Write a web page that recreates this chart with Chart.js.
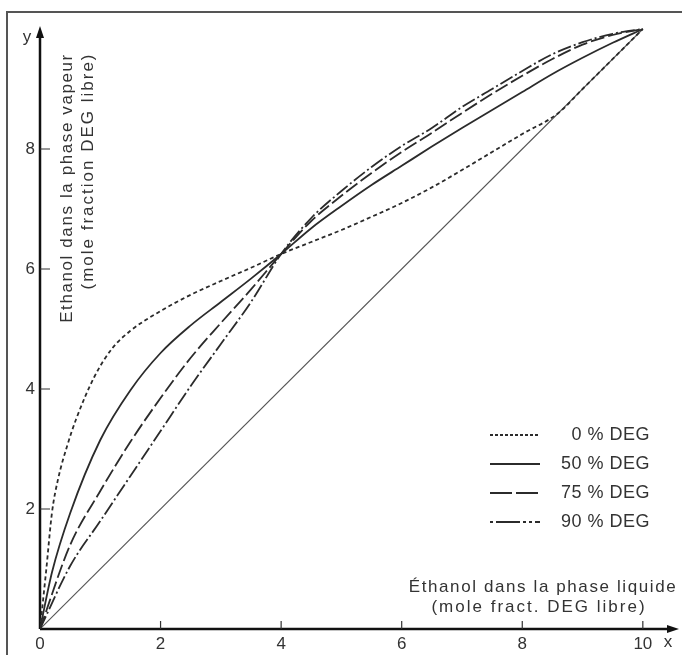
<!DOCTYPE html>
<html>
<head>
<meta charset="utf-8">
<script src="https://cdn.jsdelivr.net/npm/chart.js@4/dist/chart.umd.min.js"></script>
<style>
  body { margin: 0; background: #fff; }
  canvas { display: block; }
</style>
</head>
<body>
<canvas id="vleChart" width="682" height="655"></canvas>
<script>
// Ethanol vapour / liquid equilibrium for several DEG contents
var xTicks = [0, 2, 4, 6, 8, 10];
var yTicks = [2, 4, 6, 8];

var deg0X = [0, 0.1, 0.2, 0.3, 0.45, 0.6, 0.9, 1.2, 1.5, 2, 2.5, 3, 3.5, 4, 4.5, 5, 5.5, 6, 6.5, 7, 7.5, 8, 8.6, 9, 10];
var deg0Y = [0, 0.95, 1.95, 2.5, 3.05, 3.5, 4.2, 4.68, 4.97, 5.3, 5.57, 5.8, 6.02, 6.25, 6.45, 6.65, 6.87, 7.1, 7.36, 7.65, 7.95, 8.25, 8.6, 9, 10];

var deg50X = [0, 0.2, 0.5, 1, 1.5, 2, 2.5, 3, 3.5, 4, 4.5, 5, 5.5, 6, 6.5, 7, 7.5, 8, 8.5, 9, 9.5, 10];
var deg50Y = [0, 0.95, 1.93, 3.15, 3.98, 4.6, 5.06, 5.45, 5.84, 6.25, 6.68, 7.05, 7.4, 7.72, 8.04, 8.35, 8.65, 8.95, 9.25, 9.52, 9.77, 10];

var deg75X = [0, 0.5, 1, 1.5, 2, 2.5, 3, 3.5, 4, 4.5, 5, 5.5, 6, 6.5, 7, 7.5, 8, 8.5, 9, 9.5, 10];
var deg75Y = [0, 1.4, 2.3, 3.12, 3.85, 4.52, 5.1, 5.66, 6.25, 6.8, 7.22, 7.6, 7.95, 8.27, 8.6, 8.92, 9.22, 9.5, 9.74, 9.9, 10];

var deg90X = [0, 0.5, 1, 1.5, 2, 2.5, 3, 3.5, 4, 4.5, 5, 5.5, 6, 6.5, 7, 7.5, 8, 8.5, 9, 9.5, 10];
var deg90Y = [0, 1.05, 1.8, 2.55, 3.3, 4.05, 4.75, 5.45, 6.25, 6.85, 7.3, 7.7, 8.05, 8.35, 8.7, 9.0, 9.3, 9.58, 9.78, 9.92, 10];

var diagX = [0, 10];
var diagY = [0, 10];

var seriesLabels = ['0 % DEG', '50 % DEG', '75 % DEG', '90 % DEG'];

function toPoints(xs, ys) {
    return xs.map(function (x, i) { return { x: x, y: ys[i] }; });
}

var ink = '#2b2b2b';
var fontName = '"Liberation Sans", Arial, sans-serif';

function curve(label, xs, ys, dash, legendDash) {
    return {
        label: label,
        data: toPoints(xs, ys),
        borderColor: ink,
        borderWidth: 1.8,
        borderDash: dash,
        legendDash: legendDash,
        pointRadius: 0,
        fill: false,
        cubicInterpolationMode: 'monotone'
    };
}

// axes with arrows, inner tick marks and labels
var axesPlugin = {
    id: 'axesPlugin',
    beforeDatasetsDraw: function (chart) {
        var ctx = chart.ctx, xs = chart.scales.x, ys = chart.scales.y;
        var x0 = xs.getPixelForValue(0), y0 = ys.getPixelForValue(0);
        var xEnd = xs.right, yEnd = ys.top;
        ctx.save();

        // frame
        ctx.lineWidth = 2;
        ctx.strokeStyle = '#555';
        ctx.beginPath();
        ctx.moveTo(7, 655);
        ctx.lineTo(7, 12);
        ctx.lineTo(682, 12);
        ctx.stroke();

        ctx.strokeStyle = '#111';
        ctx.fillStyle = '#111';
        ctx.lineWidth = 2.5;
        ctx.beginPath();
        ctx.moveTo(x0, y0);
        ctx.lineTo(xEnd - 8, y0);
        ctx.moveTo(x0, y0);
        ctx.lineTo(x0, yEnd + 8);
        ctx.stroke();

        // arrow heads
        ctx.beginPath();
        ctx.moveTo(xEnd, y0);
        ctx.lineTo(xEnd - 12, y0 - 4);
        ctx.lineTo(xEnd - 12, y0 + 4);
        ctx.closePath();
        ctx.fill();
        ctx.beginPath();
        ctx.moveTo(x0, yEnd);
        ctx.lineTo(x0 - 4, yEnd + 12);
        ctx.lineTo(x0 + 4, yEnd + 12);
        ctx.closePath();
        ctx.fill();

        // tick marks
        ctx.lineWidth = 1.2;
        ctx.strokeStyle = '#333';
        ctx.beginPath();
        xTicks.forEach(function (v) {
            if (v === 0) return;
            var px = xs.getPixelForValue(v);
            ctx.moveTo(px, y0);
            ctx.lineTo(px, y0 - 8);
        });
        yTicks.forEach(function (v) {
            var py = ys.getPixelForValue(v);
            ctx.moveTo(x0, py);
            ctx.lineTo(x0 + 10, py);
        });
        ctx.stroke();
        ctx.restore();
    },
    afterDraw: function (chart) {
        var ctx = chart.ctx, xs = chart.scales.x, ys = chart.scales.y;
        var x0 = xs.getPixelForValue(0), y0 = ys.getPixelForValue(0);
        ctx.save();
        ctx.fillStyle = '#333';
        ctx.font = '17px ' + fontName;

        // tick labels
        ctx.textAlign = 'center';
        ctx.textBaseline = 'middle';
        xTicks.forEach(function (v) {
            ctx.fillText(String(v), xs.getPixelForValue(v), y0 + 15);
        });
        ctx.textAlign = 'right';
        yTicks.forEach(function (v) {
            ctx.fillText(String(v), x0 - 5, ys.getPixelForValue(v));
        });

        // axis letters
        ctx.textAlign = 'center';
        ctx.fillText('x', 668, y0 + 13);
        ctx.fillText('y', 27, 37);

        // axis titles
        ctx.letterSpacing = '1.6px';
        ctx.fillText('Éthanol dans la phase liquide', 543, 587);
        ctx.letterSpacing = '2px';
        ctx.fillText('(mole fract. DEG libre)', 539, 607);

        ctx.save();
        ctx.translate(67, 188);
        ctx.rotate(-Math.PI / 2);
        ctx.letterSpacing = '1.6px';
        ctx.fillText('Ethanol dans la phase vapeur', 0, 0);
        ctx.restore();
        ctx.save();
        ctx.translate(88, 171);
        ctx.rotate(-Math.PI / 2);
        ctx.letterSpacing = '2px';
        ctx.fillText('(mole fraction DEG libre)', 0, 0);
        ctx.restore();

        // legend
        ctx.letterSpacing = '0.5px';
        ctx.font = '18px ' + fontName;
        ctx.textAlign = 'right';
        var rows = [435, 464, 493, 522];
        chart.data.datasets.slice(0, 4).forEach(function (ds, i) {
            var py = rows[i];
            ctx.save();
            ctx.strokeStyle = ink;
            ctx.lineWidth = 2;
            ctx.setLineDash(ds.legendDash);
            ctx.beginPath();
            ctx.moveTo(490, py);
            ctx.lineTo(540, py);
            ctx.stroke();
            ctx.restore();
            ctx.fillText(ds.label, 650, py);
        });
        ctx.restore();
    }
};

new Chart(document.getElementById('vleChart'), {
    type: 'line',
    data: {
        datasets: [
            curve(seriesLabels[0], deg0X, deg0Y, [4, 3], [3, 2]),
            curve(seriesLabels[1], deg50X, deg50Y, [], []),
            curve(seriesLabels[2], deg75X, deg75Y, [14, 4], [22, 4]),
            curve(seriesLabels[3], deg90X, deg90Y, [14, 3, 2, 3], [3, 3, 24, 3, 3, 3]),
            {
                label: 'x = y',
                data: toPoints(diagX, diagY),
                borderColor: '#555',
                borderWidth: 1.1,
                pointRadius: 0,
                fill: false
            }
        ]
    },
    options: {
        responsive: false,
        animation: false,
        layout: { padding: { left: 40, right: 3, top: 26, bottom: 26 } },
        plugins: {
            legend: { display: false },
            tooltip: { enabled: false }
        },
        scales: {
            x: { type: 'linear', min: 0, max: 10.6, display: false },
            y: { type: 'linear', min: 0, max: 10.05, display: false }
        }
    },
    plugins: [axesPlugin]
});
</script>
</body>
</html>
